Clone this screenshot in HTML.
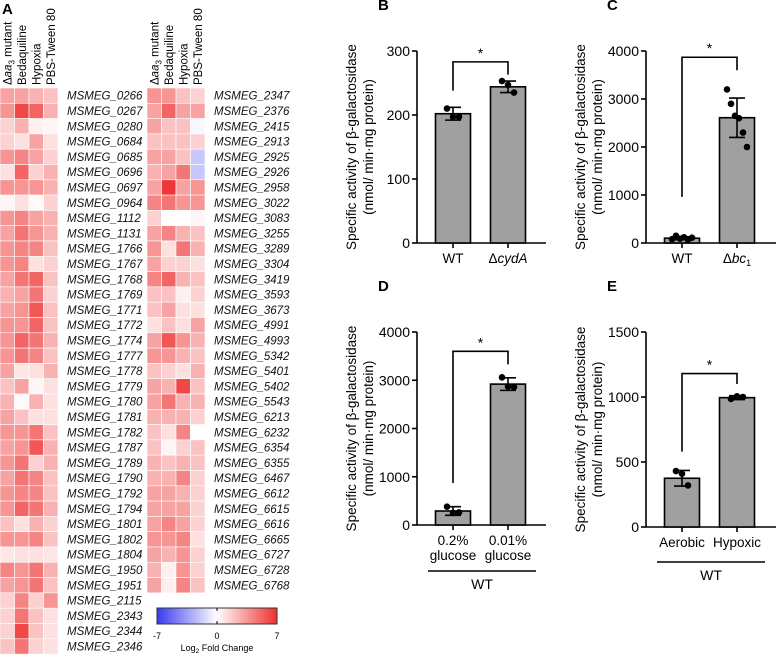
<!DOCTYPE html>
<html><head><meta charset="utf-8">
<style>
html,body{margin:0;padding:0;background:#fff;}
svg{display:block;font-family:"Liberation Sans",Arial,sans-serif;}
</style></head>
<body>
<svg id="fig" width="777" height="655" viewBox="0 0 777 655" xmlns="http://www.w3.org/2000/svg">
<defs>
<linearGradient id="cbar" x1="0" x2="1" y1="0" y2="0">
<stop offset="0" stop-color="#3b3bf0"/><stop offset="0.5" stop-color="#ffffff"/><stop offset="1" stop-color="#f03030"/>
</linearGradient>
</defs>
<g id="heat"></g>
<g id="bars"></g>
</svg>
<script>
const NS="http://www.w3.org/2000/svg";
const svg=document.getElementById('fig');
function mk(tag,attrs,parent,text){const e=document.createElementNS(NS,tag);for(const k in attrs)e.setAttribute(k,attrs[k]);if(text!==undefined)e.textContent=text;(parent||svg).appendChild(e);return e;}

// ---------- Heatmap data ----------
const heatCols=["aa3 mutant","Bedaquiline","Hypoxia","PBS-Tween 80"];
const genesLeft=["MSMEG_0266","MSMEG_0267","MSMEG_0280","MSMEG_0684","MSMEG_0685","MSMEG_0696","MSMEG_0697","MSMEG_0964","MSMEG_1112","MSMEG_1131","MSMEG_1766","MSMEG_1767","MSMEG_1768","MSMEG_1769","MSMEG_1771","MSMEG_1772","MSMEG_1774","MSMEG_1777","MSMEG_1778","MSMEG_1779","MSMEG_1780","MSMEG_1781","MSMEG_1782","MSMEG_1787","MSMEG_1789","MSMEG_1790","MSMEG_1792","MSMEG_1794","MSMEG_1801","MSMEG_1802","MSMEG_1804","MSMEG_1950","MSMEG_1951","MSMEG_2115","MSMEG_2343","MSMEG_2344","MSMEG_2346"];
const valsLeft=[[3,3,2.5,2],[3.5,6,5,2.5],[1.5,2.5,0.5,0.3],[1.5,1,3,1],[3.5,4,3,1.5],[1,5,1.5,2.5],[3.5,3.5,3.5,2.5],[0.3,1,0.2,1.5],[3.5,4,3,2.5],[3,4.5,3.5,2.5],[3.5,4,4,2],[3.5,4,1,1.5],[3,4.5,5,2],[2.5,3,4.5,1.5],[3,3.5,5.5,2],[3.5,3.5,5,2],[3.5,5,4.5,2.5],[3.5,4.5,4,2],[3,0.8,1,2.5],[2,3,0.3,1],[2.5,0.2,2.5,1],[3,2,1,1],[3.5,3.5,4.5,2],[3,3.5,5.5,2.5],[3.5,4.5,1.5,2.5],[3,4.5,4,2],[3.5,4,4,2],[3.5,5,4.5,2.5],[2,1,2.5,1.5],[3.5,3.5,4,2],[0.8,1,1,0.8],[4,3.5,4.5,2.5],[3,3.5,4.5,2],[1.5,4,1.5,3.5],[1.5,4.5,2,1],[1.5,6,2,1],[2,4.5,1.5,1]];
const genesRight=["MSMEG_2347","MSMEG_2376","MSMEG_2415","MSMEG_2913","MSMEG_2925","MSMEG_2926","MSMEG_2958","MSMEG_3022","MSMEG_3083","MSMEG_3255","MSMEG_3289","MSMEG_3304","MSMEG_3419","MSMEG_3593","MSMEG_3673","MSMEG_4991","MSMEG_4993","MSMEG_5342","MSMEG_5401","MSMEG_5402","MSMEG_5543","MSMEG_6213","MSMEG_6232","MSMEG_6354","MSMEG_6355","MSMEG_6467","MSMEG_6612","MSMEG_6615","MSMEG_6616","MSMEG_6665","MSMEG_6727","MSMEG_6728","MSMEG_6768"];
const valsRight=[[3.5,3.5,2,1.5],[3,5,3,3],[3,2,2,-0.3],[2,2,2,1.5],[3,3,2,-2],[2.5,3,4.5,-2],[3,6.5,3,3.5],[4,4.5,3.5,3.5],[1.5,0,0,0.3],[3,4,2.5,2],[3.5,1,4.5,2.5],[3,1.5,1.5,1],[4,5,2.5,2],[2,2,0.5,1.5],[2,3,1,1],[1,2,1,3],[3,5.5,3.5,2.5],[3.5,3.5,2.5,2],[2,1.5,1,2.5],[3,2.5,6,2],[3,4.5,2.5,2.5],[2.5,2.5,2.5,1.5],[2,1,4,0],[2,0.3,1.5,2],[2.5,2,2.5,2],[2.5,2.5,4,1.5],[3,3,2.5,1.5],[3,3,3,1.5],[3,4,3,1.5],[3.5,3.5,4,1],[3,2.5,3.5,1.5],[2.5,0.5,3.5,1.5],[3,0.5,4,2]];
const cbTicks=[-7,0,7];

function heatColor(v){
  const t=Math.max(-1,Math.min(1,v/7));
  if(t>=0){return `rgb(${Math.round(255-17*t)},${Math.round(255-215*t)},${Math.round(255-215*t)})`;}
  const s=-t;return `rgb(${Math.round(255-196*s)},${Math.round(255-196*s)},${Math.round(255-15*s)})`;
}
const heat=document.getElementById('heat');
mk('text',{x:2,y:14,'font-size':15,'font-weight':'bold'},heat,'A');
const ROWH=15.3, TOP=88, CW=14.5;
function drawHeat(x0,genes,vals,side){
  const g=mk('g',{},heat);
  
  
  heatCols.forEach((c,j)=>{
    const tx=x0+j*CW+CW/2+4;
    const t=mk('text',{x:tx,y:TOP-3,'font-size':11.5,transform:`rotate(-90 ${tx} ${TOP-3})`},g);
    
    
    if(j===0){
      mk('tspan',{},t,'Δ');mk('tspan',{'font-style':'italic'},t,'aa');
      mk('tspan',{'font-size':8,dy:3},t,'3');mk('tspan',{dy:-3},t,' mutant');
    } else t.textContent=c;
  });
  genes.forEach((gn,i)=>{
    vals[i].forEach((v,j)=>{
      const r=mk('rect',{x:x0+j*CW,y:TOP+i*ROWH,width:CW,height:ROWH,fill:heatColor(v),stroke:'#fff','stroke-width':0.6},g);
      
      
    });
    const l=mk('text',{x:x0+4*CW+9,y:TOP+i*ROWH+ROWH/2+4,'font-size':11.5,'font-style':'italic',fill:'#111'},g,gn);
    
    
  });
}
drawHeat(0,genesLeft,valsLeft,'left');
drawHeat(147,genesRight,valsRight,'right');
// colorbar
const cbX=157,cbW=120,cbY=608,cbH=16;
const cb=mk('rect',{x:cbX,y:cbY,width:cbW,height:cbH,fill:'url(#cbar)',stroke:'#333','stroke-width':1},heat);


mk('line',{x1:cbX+cbW/2,x2:cbX+cbW/2,y1:cbY,y2:cbY+3,stroke:'#000'},heat);
mk('line',{x1:cbX+cbW/2,x2:cbX+cbW/2,y1:cbY+cbH-3,y2:cbY+cbH,stroke:'#000'},heat);
cbTicks.forEach(v=>{
  const t=mk('text',{x:cbX+(v+7)/14*cbW,y:639,'font-size':9,'text-anchor':'middle'},heat,String(v));
  
  
});
const cbt=mk('text',{x:cbX+cbW/2,y:651,'font-size':9,'text-anchor':'middle'},heat);


mk('tspan',{},cbt,'Log');mk('tspan',{'font-size':6.5,dy:2},cbt,'2');mk('tspan',{dy:-2},cbt,' Fold Change');

// ---------- Bar data ----------
const bCats=["WT","cydA"], bMeans=[202,244], bSD=[10,9], bPts=[[210,197,197],[253,247,235]], bTicks=[0,100,200,300];
const cCats=["WT","bc1"], cMeans=[100,2610], cSD=[30,410], cPts=[[80,150,90,120,70,110],[3200,2900,2650,2600,2300,2000]], cTicks=[0,1000,2000,3000,4000];
const dCats=["0.2%|glucose","0.01%|glucose"], dMeans=[290,2920], dSD=[90,130], dPts=[[380,250,260],[3060,2870,2860]], dTicks=[0,1000,2000,3000,4000];
const eCats=["Aerobic","Hypoxic"], eMeans=[375,995], eSD=[60,15], ePts=[[430,410,320],[985,1005,1000]], eTicks=[0,500,1000,1500];
const bBracket=[238,283,263], cBracket=[960,3870,3600], dBracket=[870,3600,3330], eBracket=[580,1180,1100];

const bars=document.getElementById('bars');
function panel(o){
  const g=mk('g',{},bars);
  
  
  const ymax=o.ticks[o.ticks.length-1];
  const Y=v=>o.y0-(v/ymax)*(o.y0-o.y1);
  const L=mk('text',{x:o.ax-39,y:o.y1-41,'font-size':15,'font-weight':'bold'},g,o.id.toUpperCase());
  
  
  // y title
  const tx=o.ax-46, ty=(o.y0+o.y1)/2;
  const t1=mk('text',{x:tx-15,y:ty,'font-size':13.5,'text-anchor':'middle',transform:`rotate(-90 ${tx-15} ${ty})`},g,'Specific activity of β-galactosidase');
  
  
  const t2=mk('text',{x:tx+2,y:ty,'font-size':13.5,'text-anchor':'middle',transform:`rotate(-90 ${tx+2} ${ty})`},g,'(nmol/ min·mg protein)');
  
  
  // axes
  const ya=mk('line',{x1:o.ax,x2:o.ax,y1:o.y1,y2:o.y0,stroke:'#000','stroke-width':1.6},g);
  
  
  const xa=mk('line',{x1:o.ax,x2:o.axEnd,y1:o.y0,y2:o.y0,stroke:'#000','stroke-width':1.6},g);
  
  
  o.ticks.forEach(v=>{
    mk('line',{x1:o.ax-5,x2:o.ax,y1:Y(v),y2:Y(v),stroke:'#000','stroke-width':1.6},g);
    const tl=mk('text',{x:o.ax-7,y:Y(v)+5,'font-size':14,'text-anchor':'end'},g,String(v));
    
    
  });
  o.means.forEach((m,i)=>{
    const cx=o.cx[i];
    const r=mk('rect',{x:cx-17.5,y:Y(m),width:35,height:o.y0-Y(m),fill:'#a0a0a0',stroke:'#000','stroke-width':1.6},g);
    
    
    mk('line',{x1:cx,x2:cx,y1:o.y0,y2:o.y0+5,stroke:'#000','stroke-width':1.6},g);
    o.pts[i].forEach((p,k)=>{
      const n=o.pts[i].length;const dx=(k-(n-1)/2)*(n>3?4:6);
      const c=mk('circle',{cx:cx+dx,cy:Y(p),r:3.3,fill:'#000'},g);
      
      
    });
    const lo=Y(m-o.sd[i]),hi=Y(m+o.sd[i]);
    const eb=mk('path',{d:`M${cx},${lo}V${hi}M${cx-8},${lo}H${cx+8}M${cx-8},${hi}H${cx+8}`,stroke:'#000','stroke-width':1.6,fill:'none'},g);
    
    
    const parts=o.cats[i].split('|');
    parts.forEach((p,k)=>{
      const lab=mk('text',{x:cx,y:o.y0+20+k*15,'font-size':13.5,'text-anchor':'middle'},g);
      
      
      if(p==='cydA'){mk('tspan',{},lab,'Δ');mk('tspan',{'font-style':'italic'},lab,'cydA');}
      else if(p==='bc1'){mk('tspan',{},lab,'Δ');mk('tspan',{'font-style':'italic'},lab,'bc');mk('tspan',{'font-size':9,dy:3},lab,'1');}
      else lab.textContent=p;
    });
  });
  const br=o.bracket;
  const bp=mk('path',{d:`M${o.cx[0]},${Y(br[0])}V${Y(br[1])}H${o.cx[1]}V${Y(br[2])}`,stroke:'#000','stroke-width':1.6,fill:'none'},g);
  
  
  const st=mk('text',{x:(o.cx[0]+o.cx[1])/2,y:Y(br[1])-4,'font-size':14,'text-anchor':'middle'},g,'*');
  
  
  if(o.group){
    mk('line',{x1:o.group[0],x2:o.group[1],y1:o.group[2],y2:o.group[2],stroke:'#000','stroke-width':1.6},g);
    const gl=mk('text',{x:(o.group[0]+o.group[1])/2,y:o.group[2]+18,'font-size':14,'text-anchor':'middle'},g,'WT');
    
    
  }
}
panel({id:'b',ax:417,axEnd:546,y0:243,y1:51,cx:[453,508],cats:bCats,means:bMeans,sd:bSD,pts:bPts,ticks:bTicks,bracket:bBracket});
panel({id:'c',ax:646,axEnd:776,y0:243,y1:51,cx:[682,737],cats:cCats,means:cMeans,sd:cSD,pts:cPts,ticks:cTicks,bracket:cBracket});
panel({id:'d',ax:417,axEnd:546,y0:525,y1:332,cx:[453,508],cats:dCats,means:dMeans,sd:dSD,pts:dPts,ticks:dTicks,bracket:dBracket,group:[428,536,571]});
panel({id:'e',ax:646,axEnd:776,y0:527,y1:332,cx:[682,737],cats:eCats,means:eMeans,sd:eSD,pts:ePts,ticks:eTicks,bracket:eBracket,group:[657,765,562]});
</script>
</body></html>
